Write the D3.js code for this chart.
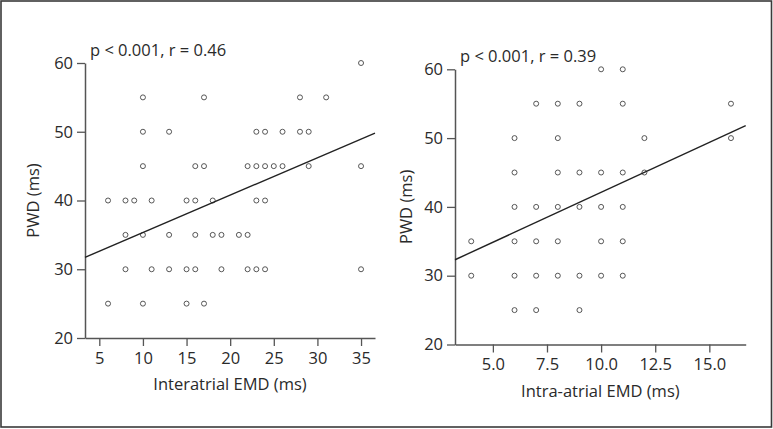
<!DOCTYPE html>
<html><head><meta charset="utf-8">
<script src="https://cdn.jsdelivr.net/npm/d3@7"></script>
<style>
html,body{margin:0;padding:0;background:#fff;}
text{font-family:"Open Sans","Noto Sans",sans-serif;fill:#2a2a2a;}
</style></head>
<body><svg id="c" width="773" height="429"></svg>
<script>
// ---- data ----
const interatrialEMD = [35, 10,17,28,31, 10,13,23,24,26,28,29, 10,16,17,22,23,24,25,26,29,35,
  6,8,9,11,15,16,18,23,24, 8,10,13,16,18,19,21,22, 8,11,13,15,16,19,22,23,24,35, 6,10,15,17];
const pwdLeft = [60, 55,55,55,55, 50,50,50,50,50,50,50, 45,45,45,45,45,45,45,45,45,45,
  40,40,40,40,40,40,40,40,40, 35,35,35,35,35,35,35,35, 30,30,30,30,30,30,30,30,30,30, 25,25,25,25];
const intraatrialEMD = [10,11, 7,8,9,11,16, 6,8,12,16, 6,8,9,10,11,12, 6,7,8,9,10,11,
  4,6,7,8,10,11, 4,6,7,8,9,10,11, 6,7,9];
const pwdRight = [60,60, 55,55,55,55,55, 50,50,50,50, 45,45,45,45,45,45, 40,40,40,40,40,40,
  35,35,35,35,35,35, 30,30,30,30,30,30,30, 25,25,25];
const leftXTicks = [5,10,15,20,25,30,35];
const rightXTicks = [5,7.5,10,12.5,15];
const yTicks = [20,30,40,50,60];
const leftFit = {intercept: 29.9, slope: 0.544};
const rightFit = {intercept: 27.6, slope: 1.452};
const leftLabel = "p < 0.001, r = 0.46";
const rightLabel = "p < 0.001, r = 0.39";

const FS = 16.5;
const svg = d3.select("#c");
svg.append("rect").attr("x",1).attr("y",1).attr("width",770.5).attr("height",426)
  .attr("fill","none").attr("stroke","#3a3a3a").attr("stroke-width",1.6);

function panel(o){
  const x = d3.scaleLinear().domain(o.xDomain).range(o.xRange);
  const y = d3.scaleLinear().domain([20,60]).range(o.yRange);
  const g = svg.append("g");
  const ax = g.append("g").attr("transform",`translate(0,${o.yRange[0]})`)
    .call(d3.axisBottom(x).tickValues(o.xTicks).tickSize(8).tickSizeOuter(0).tickPadding(6).tickFormat(o.fmt));
  const ay = g.append("g").attr("transform",`translate(${o.xRange[0]},0)`)
    .call(d3.axisLeft(y).tickValues(yTicks).tickSize(8).tickSizeOuter(0).tickPadding(4));
  [ax,ay].forEach(a=>{
    a.attr("font-size",FS).attr("font-family",null);
    a.select(".domain").attr("stroke","#555").attr("stroke-width",1.5);
    a.selectAll(".tick line").attr("stroke","#555").attr("stroke-width",1.3);
    a.selectAll("text").attr("font-size",FS).attr("fill","#2a2a2a");
  });
  g.selectAll("circle").data(o.xs).join("circle")
    .attr("cx",(d)=>x(d)).attr("cy",(d,i)=>y(o.ys[i])).attr("r",2.5)
    .attr("fill","#fff").attr("stroke","#444").attr("stroke-width",0.9);
  const [x0,x1] = o.xDomain;
  g.append("line").attr("x1",x(x0)).attr("y1",y(o.fit.intercept+o.fit.slope*x0))
    .attr("x2",x(x1)).attr("y2",y(o.fit.intercept+o.fit.slope*x1))
    .attr("stroke","#222").attr("stroke-width",1.4);
  g.append("text").attr("x",o.xRange[0]+5).attr("y",o.yRange[1]-7).attr("font-size",FS).text(o.label);
  g.append("text").attr("x",(o.xRange[0]+o.xRange[1])/2).attr("y",o.yRange[0]+52)
    .attr("text-anchor","middle").attr("font-size",FS).text(o.xTitle);
  g.append("text").attr("transform",`translate(${o.yTitleX},${(o.yRange[0]+o.yRange[1])/2}) rotate(-90)`)
    .attr("text-anchor","middle").attr("dy","0.35em").attr("font-size",FS).text("PWD (ms)");
}

panel({xs:interatrialEMD, ys:pwdLeft, xDomain:[3.36,36.6], xRange:[85,375], yRange:[338,63],
  xTicks:leftXTicks, fmt:d3.format("d"), fit:leftFit, label:leftLabel, xTitle:"Interatrial EMD (ms)", yTitleX:33});
panel({xs:intraatrialEMD, ys:pwdRight, xDomain:[3.25,16.68], xRange:[455,745.7], yRange:[344.5,69.3],
  xTicks:rightXTicks, fmt:d3.format(".1f"), fit:rightFit, label:rightLabel, xTitle:"Intra-atrial EMD (ms)", yTitleX:406});
</script></body></html>
